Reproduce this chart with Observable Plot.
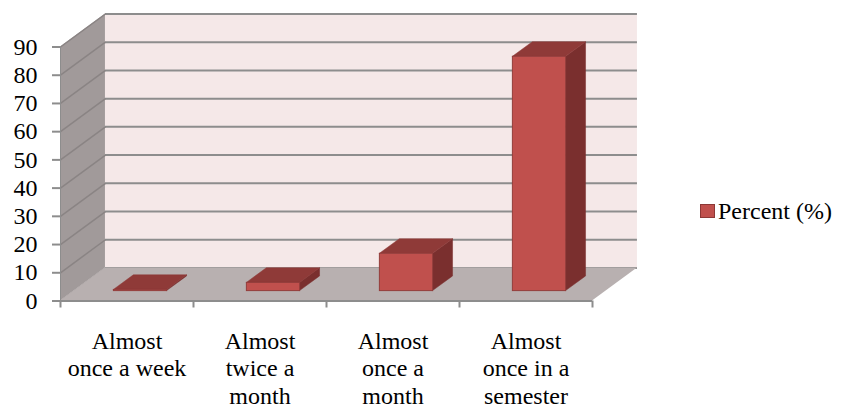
<!DOCTYPE html>
<html>
<head>
<meta charset="utf-8">
<script src="https://cdn.jsdelivr.net/npm/d3@7"></script>
<script src="https://cdn.jsdelivr.net/npm/@observablehq/plot@0.6"></script>
<style>
  html, body { margin: 0; padding: 0; background: #fff; }
  #wrap { position: relative; width: 842px; height: 406px; }
  #legend { position: absolute; left: 700px; top: 198px; white-space: nowrap; font-size: 24px; color: #000; line-height: 26px; }
  #legend .sw { display: inline-block; width: 13px; height: 12px; background: #c0504d; border: 1.5px solid #8c3836; margin-right: 3px; vertical-align: 1px; }
</style>
</head>
<body>
<div id="wrap"><div id="chart"></div><div id="legend"><span class="sw"></span><span id="legendText"></span></div></div>
<script>
// Survey responses: how often respondents do it (percent of respondents)
const categories = [
  "Almost\nonce a week",
  "Almost\ntwice a\nmonth",
  "Almost\nonce a\nmonth",
  "Almost\nonce in a\nsemester"
];
const percent = [0.4, 2.9, 13.2, 83];
const yTicks = [0, 10, 20, 30, 40, 50, 60, 70, 80, 90];
const seriesName = "Percent (%)";

// Oblique 3-D projection, expressed in data units:
// moving one full depth shifts right by depthX bands and up by depthY percent.
const depthX = 0.338, depthY = 11.7;
const yMax = 90;
const n = categories.length;
const front = 0.3, back = 0.744, halfW = 0.2; // bar position in depth, bar half width

const red = "#c0504d", redTop = "#8f3a38", redSide = "#7a2f2e", redEdge = "#933d3b";

// Left wall and floor as parallelograms
const leftWall = [
  {x: 0, y1: 0, y2: yMax},
  {x: depthX, y1: depthY, y2: yMax + depthY}
];
const floor = [
  {x: 0, y1: 0, y2: 0},
  {x: depthX, y1: 0, y2: depthY},
  {x: n, y1: 0, y2: depthY},
  {x: n + depthX, y1: depthY, y2: depthY}
];

// Bar faces built from the values
const fronts = percent.map((v, i) => {
  const c = i + 0.5 + front * depthX;
  return {x1: c - halfW, x2: c + halfW, y1: front * depthY, y2: v + front * depthY};
});
const dX = (back - front) * depthX, dY = (back - front) * depthY;
const tops = [], sides = [];
fronts.forEach((f, i) => {
  const top = f.y2;
  tops.push(
    {k: i, x: f.x1, y1: top, y2: top},
    {k: i, x: f.x1 + dX, y1: top, y2: top + dY},
    {k: i, x: f.x2, y1: top, y2: top + dY},
    {k: i, x: f.x2 + dX, y1: top + dY, y2: top + dY}
  );
  sides.push(
    {k: i, x: f.x2, y1: f.y1, y2: top},
    {k: i, x: f.x2 + dX, y1: f.y1 + dY, y2: top + dY}
  );
});

const font = "\"Liberation Serif\", \"Times New Roman\", serif";
document.getElementById("legendText").textContent = seriesName;

const chart = Plot.plot({
  width: 842,
  height: 406,
  marginLeft: 60,
  marginRight: 250,
  marginTop: 46.5,
  marginBottom: 105.5,
  x: {domain: [0, n], axis: null},
  y: {domain: [0, yMax], axis: null},
  style: {background: "white", color: "black", overflow: "visible"},
  marks: [
    // back wall
    Plot.rect([0], {x1: depthX, x2: n + depthX, y1: depthY, y2: yMax + depthY, fill: "#f5e8e8"}),
    Plot.ruleY(yTicks, {y: d => d + depthY, x1: depthX, x2: n + depthX, stroke: "#8d8d8d", strokeWidth: 2}),
    // left wall
    Plot.area(leftWall, {x1: "x", y1: "y1", y2: "y2", fill: "#a19a9a"}),
    Plot.link(yTicks, {x1: 0, y1: d => d, x2: depthX, y2: d => d + depthY, stroke: "#8a8484", strokeWidth: 1.5}),
    // floor
    Plot.area(floor, {x1: "x", y1: "y1", y2: "y2", fill: "#b8b0b0"}),
    // bars
    Plot.area(sides, {x1: "x", y1: "y1", y2: "y2", z: "k", fill: redSide, stroke: redSide, strokeWidth: 0.5}),
    Plot.area(tops, {x1: "x", y1: "y1", y2: "y2", z: "k", fill: redTop, stroke: redTop, strokeWidth: 0.5}),
    Plot.rect(fronts, {x1: "x1", x2: "x2", y1: "y1", y2: "y2", fill: red, stroke: redEdge, strokeWidth: 1}),
    // axes
    Plot.ruleX([0], {y1: 0, y2: yMax, stroke: "#8d8d8d", strokeWidth: 1}),
    Plot.ruleY([0], {x1: 0, x2: n, stroke: "#8d8d8d", strokeWidth: 2}),
    Plot.axisY({ticks: yTicks, tickSize: 8, tickPadding: 15, stroke: "#8d8d8d", strokeWidth: 2, fill: "black", fontSize: 24, label: null}),
    Plot.axisX({ticks: d3.range(0, n + 1), tickSize: 7, tickFormat: () => "", stroke: "#8d8d8d", strokeWidth: 2, label: null}),
    Plot.text(categories, {x: (d, i) => i + 0.5, frameAnchor: "bottom", lineAnchor: "top", dy: 28, lineHeight: 1.15, fontSize: 24, fill: "black"})
  ]
});
document.getElementById("chart").appendChild(chart);

// Serif typeface for every text element, set inline with priority
const serifize = el => el.style.setProperty("font-family", font, "important");
[document.body, document.getElementById("legend"), document.getElementById("legendText"), chart].forEach(serifize);
chart.querySelectorAll("g, text, tspan").forEach(serifize);
</script>
</body>
</html>
